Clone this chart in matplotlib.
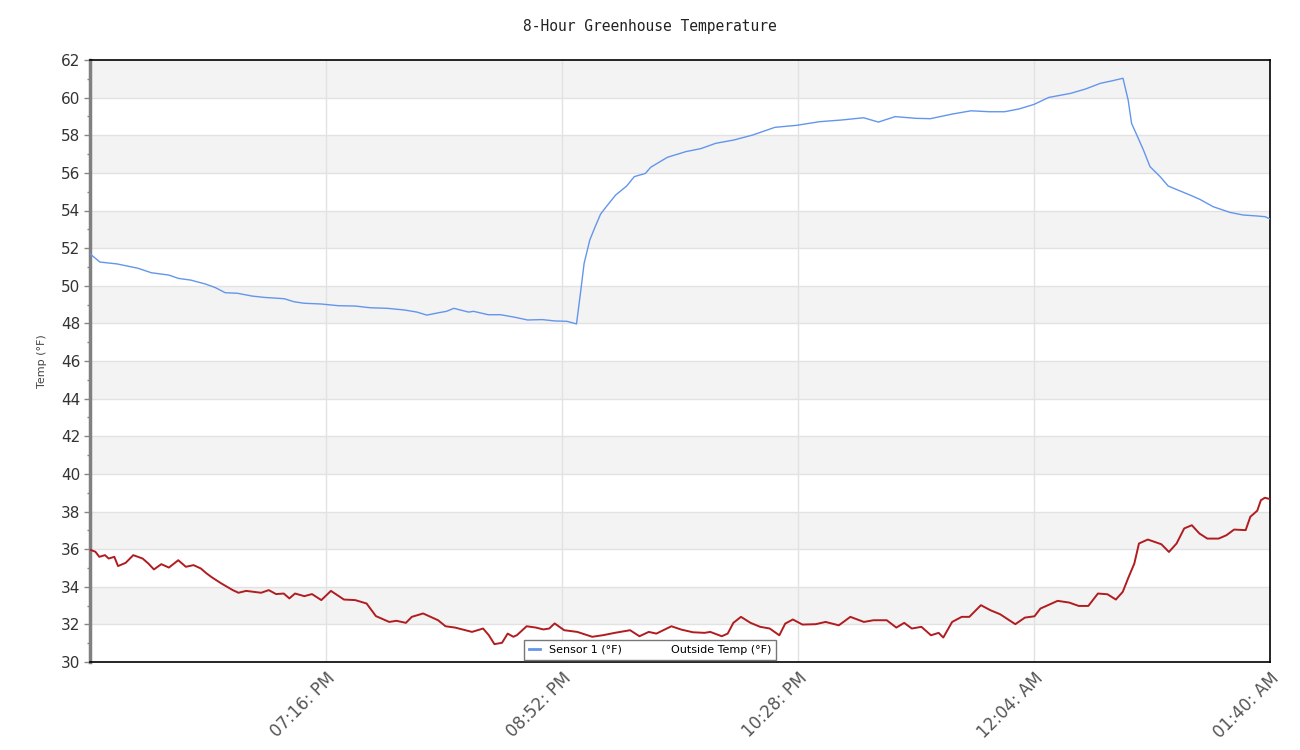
import datetime as dt
import matplotlib
matplotlib.use("Agg")
import matplotlib.pyplot as plt
from matplotlib.ticker import MultipleLocator, FixedLocator

# minutes after 05:40 PM
start_time = dt.datetime(2000, 1, 1, 17, 40)

sensor_t = [0, 4, 11, 19.5, 25, 32, 36, 41, 47, 51,
            55, 60, 66, 71, 79, 83, 87, 94, 101, 108,
            114, 121, 128, 133, 137, 142, 145, 148, 154, 156,
            162, 167, 173, 178, 184, 189, 194, 197.9, 199.5, 201,
            203.3, 205.5, 207.7, 210, 213.8, 218.3, 221.4, 225.9, 228.1, 234.9,
            242.4, 248.5, 254.5, 262, 269.5, 278.6, 287.6, 296.7, 305.7, 314.7,
            320.7, 327.5, 335.9, 341.8, 350.9, 358.4, 365.9, 372, 378, 384,
            390, 399, 405, 411, 416, 420.2, 422.3, 423.7, 426.4, 428.5,
            431.2, 435.3, 438.6, 443.4, 447.5, 451.5, 456.9, 463.7, 469.1, 474.6,
            478, 480]
sensor_v = [51.7, 51.26, 51.16, 50.93, 50.69, 50.57, 50.39, 50.30, 50.09, 49.90,
            49.63, 49.60, 49.45, 49.38, 49.31, 49.15, 49.07, 49.03, 48.94, 48.92,
            48.83, 48.80, 48.71, 48.60, 48.44, 48.57, 48.64, 48.80, 48.60, 48.64,
            48.46, 48.46, 48.32, 48.18, 48.20, 48.13, 48.11, 47.97, 49.6, 51.19,
            52.43, 53.14, 53.81, 54.2, 54.82, 55.30, 55.80, 55.97, 56.30, 56.83,
            57.13, 57.29, 57.57, 57.75, 58.01, 58.42, 58.53, 58.72, 58.81, 58.93,
            58.70, 58.99, 58.90, 58.88, 59.13, 59.30, 59.25, 59.25, 59.40, 59.64,
            60.01, 60.23, 60.46, 60.76, 60.90, 61.03, 59.87, 58.63, 57.84, 57.22,
            56.33, 55.80, 55.30, 55.04, 54.82, 54.59, 54.20, 53.90, 53.76, 53.71,
            53.67, 53.55]

outside_t = [0.4, 2.2, 3.8, 6.1, 7.6, 9.9, 11.4, 14.5, 17.6, 21.4,
             23.7, 26, 29, 32.1, 35.9, 39, 42.1, 45.1, 47.4, 49.7,
             53.5, 58.1, 60.4, 63.5, 66.6, 69.6, 72.7, 75.7, 78.8, 81.1,
             83.4, 87.2, 90.3, 94.1, 98, 103.3, 107.9, 112.5, 116.3, 121.7,
             124.7, 128.5, 130.9, 135.5, 138.5, 141.6, 144.6, 148.5, 151.5, 155.4,
             159.9, 162.2, 164.5, 167.6, 169.9, 172.2, 173.7, 177.6, 181.4, 184.4,
             186.8, 189, 192.9, 198.2, 204.3, 208.9, 213.5, 219.7, 223.5, 227.3,
             230.4, 236.5,
             240.6, 245.3, 250, 252.3, 257, 259.4, 261.7, 264.8, 268.7, 272.6,
             276.5, 280.4, 282.8, 285.9, 289.8, 295.2, 299.2, 304.6, 309.3, 314.8,
             318.7, 324.1, 328, 331.2, 334.3, 338.2, 342.1, 345.2, 347.1, 350.7,
             354.6, 357.7, 362.4, 366.3, 370.2, 376.4, 380.3, 384.2, 386.6, 390.5,
             393.6, 398.3, 402.2, 406.1, 410, 413.9, 417.3, 420.1, 422.5, 424.8,
             426.7, 430.3, 435.8, 438.9, 442, 445.1, 448.2, 451.3, 454.5, 459.1,
             462.3, 465.4, 470.1, 472, 474.8, 476.3, 477.9, 480]
outside_v = [35.95, 35.86, 35.59, 35.68, 35.5, 35.59, 35.10, 35.27, 35.68, 35.50,
             35.24, 34.92, 35.20, 35.02, 35.41, 35.06, 35.15, 34.97, 34.71, 34.49,
             34.17, 33.82, 33.68, 33.78, 33.73, 33.68, 33.82, 33.61, 33.64, 33.38,
             33.64, 33.50, 33.61, 33.29, 33.78, 33.32, 33.29, 33.11, 32.44, 32.13,
             32.19, 32.08, 32.40, 32.58, 32.40, 32.22, 31.90, 31.83, 31.73, 31.60,
             31.78, 31.43, 30.95, 31.02, 31.51, 31.34, 31.43, 31.90, 31.83, 31.73,
             31.78, 32.05, 31.69, 31.60, 31.34, 31.43, 31.55, 31.69, 31.37, 31.60,
             31.51, 31.90,
             31.72, 31.58, 31.55, 31.60, 31.37, 31.51, 32.08, 32.40, 32.08, 31.87,
             31.78, 31.42, 32.04, 32.26, 31.99, 32.01, 32.13, 31.95, 32.40, 32.13,
             32.22, 32.22, 31.83, 32.08, 31.78, 31.87, 31.42, 31.55, 31.30, 32.13,
             32.40, 32.40, 33.02, 32.75, 32.54, 32.01, 32.36, 32.43, 32.84, 33.07,
             33.25, 33.16, 32.98, 32.98, 33.64, 33.60, 33.32, 33.73, 34.52, 35.23,
             36.30, 36.51, 36.26, 35.85, 36.30, 37.10, 37.27, 36.83, 36.56, 36.56,
             36.74, 37.04, 37.01, 37.72, 38.04, 38.60, 38.73, 38.66]

tick_minutes = [96, 192, 288, 384, 480]
tick_labels = [(start_time + dt.timedelta(minutes=m)).strftime("%I:%M: %p") for m in tick_minutes]

fig = plt.figure(figsize=(13, 7.5), dpi=100)
ax = fig.add_axes([90 / 1300, 1 - 662 / 750, 1180 / 1300, 602 / 750])

# alternating bands
for lo in range(32, 62, 4):
    ax.axhspan(lo, lo + 2, color="#f3f3f3", zorder=0, lw=0)
for y in range(32, 62, 2):
    ax.axhline(y, color="#e2e2e2", lw=1, zorder=1)
for m in tick_minutes[:-1]:
    ax.axvline(m, color="#e2e2e2", lw=1, zorder=1)

ax.plot(sensor_t, sensor_v, color="#6495ed", lw=1.0, zorder=3, label="Sensor 1 (°F)")
ax.plot(outside_t, outside_v, color="#b01c20", lw=1.4, zorder=3, label="Outside Temp (°F)")

ax.set_xlim(0, 480)
ax.set_ylim(30, 62)
ax.yaxis.set_major_locator(MultipleLocator(2))
ax.yaxis.set_minor_locator(MultipleLocator(1))
ax.xaxis.set_major_locator(FixedLocator(tick_minutes))
ax.set_xticklabels(tick_labels, rotation=45, ha="right", va="top", rotation_mode="anchor",
                   fontsize=12, color="#555555")
ax.tick_params(axis="x", length=0, pad=5)
ax.tick_params(axis="y", which="major", length=4, width=1, color="#888888",
               labelsize=11, labelcolor="#333333", pad=3)
ax.tick_params(axis="y", which="minor", length=2, width=1, color="#888888")

for s in ["top", "right", "bottom"]:
    ax.spines[s].set_color("black")
    ax.spines[s].set_linewidth(1.2)
ax.spines["left"].set_color("#808080")
ax.spines["left"].set_linewidth(2.5)

ax.set_ylabel("Temp (°F)", fontsize=8, color="#444444", labelpad=10)
fig.text(0.5, 1 - 27 / 750, "8-Hour Greenhouse Temperature", ha="center", va="center",
         family="DejaVu Sans Mono", fontsize=10.5, color="#222222")

leg = ax.legend(loc="lower center", bbox_to_anchor=(0.4746, 0.0), ncol=2, fontsize=8,
                frameon=True, fancybox=False, edgecolor="#777777", framealpha=1,
                handlelength=1.0, columnspacing=2.6, borderpad=0.45, handletextpad=0.8,
                borderaxespad=0.2)
leg.get_frame().set_linewidth(1)
leg.legend_handles[0].set_linewidth(2)
leg.legend_handles[1].set_visible(False)
leg.set_zorder(5)

fig.savefig("out.png", dpi=100, facecolor="white")
